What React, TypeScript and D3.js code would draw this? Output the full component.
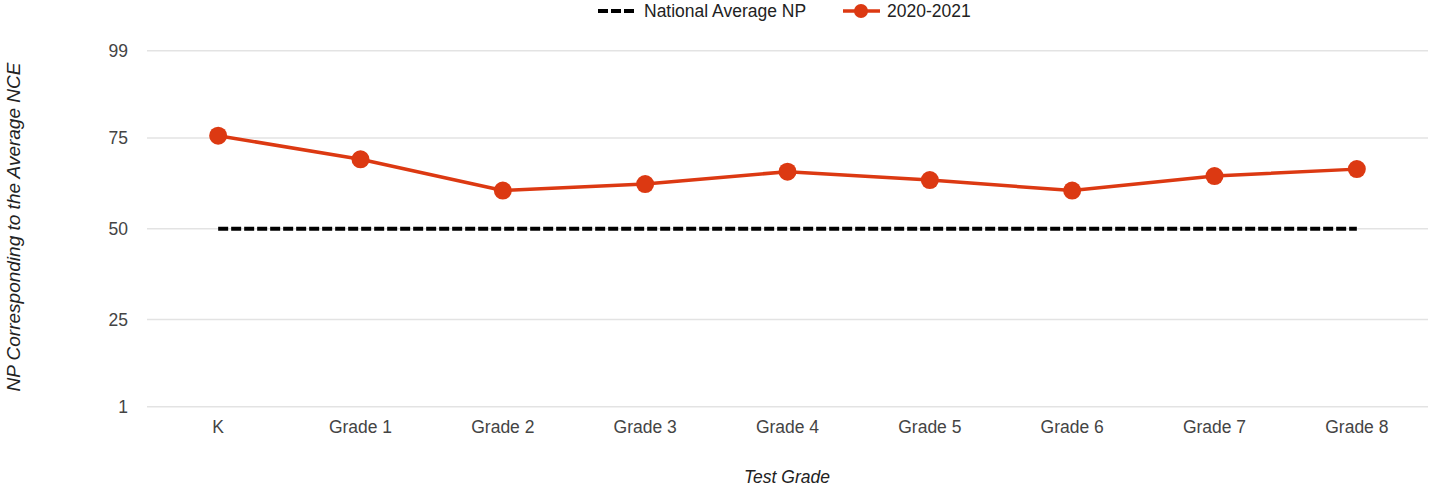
import { useEffect, useRef } from "react";
import * as d3 from "d3";

const grades = ["K", "Grade 1", "Grade 2", "Grade 3", "Grade 4", "Grade 5", "Grade 6", "Grade 7", "Grade 8"];
const scores2021 = [75.6, 69.1, 60.5, 62.3, 65.7, 63.4, 60.5, 64.5, 66.4];
const nationalAvg = [50, 50, 50, 50, 50, 50, 50, 50, 50];
const yTicks = [1, 25, 50, 75, 99];

const W = 1429;
const H = 487;
const RED = "#dc3912";
const FONT = "Liberation Sans, Arial, sans-serif";

export default function App() {
  const ref = useRef<SVGSVGElement | null>(null);

  useEffect(() => {
    const svgEl = ref.current;
    if (!svgEl) return;
    const svg = d3.select(svgEl);
    svg.selectAll("*").remove();

    const left = 147;
    const right = 1428;
    const x = d3.scaleBand<string>().domain(grades).range([left, right]);
    const cx = (g: string) => (x(g) ?? 0) + x.bandwidth() / 2;
    const y = d3.scaleLinear().domain([1, 99]).range([406.7, 50.7]);

    // gridlines
    svg
      .append("g")
      .selectAll("line")
      .data(yTicks)
      .join("line")
      .attr("x1", left)
      .attr("x2", right)
      .attr("y1", (d) => y(d))
      .attr("y2", (d) => y(d))
      .attr("stroke", "#e3e3e3")
      .attr("stroke-width", 1.5);

    // y tick labels
    svg
      .append("g")
      .selectAll("text")
      .data(yTicks)
      .join("text")
      .attr("x", 128)
      .attr("y", (d) => y(d))
      .attr("dy", "0.36em")
      .attr("text-anchor", "end")
      .attr("fill", "#444")
      .style("font", `17.5px ${FONT}`)
      .text((d) => d);

    // x tick labels
    svg
      .append("g")
      .selectAll("text")
      .data(grades)
      .join("text")
      .attr("x", (d) => cx(d))
      .attr("y", 433)
      .attr("text-anchor", "middle")
      .attr("fill", "#444")
      .style("font", `17.5px ${FONT}`)
      .text((d) => d);

    // national average dashed line
    const line = d3
      .line<number>()
      .x((_d, i) => cx(grades[i]))
      .y((d) => y(d));

    svg
      .append("path")
      .attr("d", line(nationalAvg) ?? "")
      .attr("fill", "none")
      .attr("stroke", "#000")
      .attr("stroke-width", 4)
      .attr("stroke-dasharray", "10,3");

    svg
      .append("path")
      .attr("d", line(scores2021) ?? "")
      .attr("fill", "none")
      .attr("stroke", RED)
      .attr("stroke-width", 3.5)
      .attr("stroke-linejoin", "round");

    svg
      .append("g")
      .selectAll("circle")
      .data(scores2021)
      .join("circle")
      .attr("cx", (_d, i) => cx(grades[i]))
      .attr("cy", (d) => y(d))
      .attr("r", 9)
      .attr("fill", RED);

    // axis titles
    svg
      .append("text")
      .attr("x", 787)
      .attr("y", 483)
      .attr("text-anchor", "middle")
      .attr("fill", "#222")
      .style("font", `italic 17.5px ${FONT}`)
      .text("Test Grade");

    svg
      .append("text")
      .attr("transform", `translate(20,227) rotate(-90)`)
      .attr("text-anchor", "middle")
      .attr("fill", "#222")
      .style("font", `italic 19px ${FONT}`)
      .text("NP Corresponding to the Average NCE");

    // legend
    const lg = svg.append("g");
    const ly = 11;
    lg.append("line")
      .attr("x1", 598)
      .attr("x2", 637)
      .attr("y1", ly)
      .attr("y2", ly)
      .attr("stroke", "#000")
      .attr("stroke-width", 4)
      .attr("stroke-dasharray", "10,3");
    lg.append("text")
      .attr("x", 644)
      .attr("y", ly)
      .attr("dy", "0.36em")
      .attr("fill", "#222")
      .style("font", `17.5px ${FONT}`)
      .text("National Average NP");
    lg.append("line")
      .attr("x1", 843)
      .attr("x2", 880)
      .attr("y1", ly)
      .attr("y2", ly)
      .attr("stroke", RED)
      .attr("stroke-width", 3.5);
    lg.append("circle").attr("cx", 861).attr("cy", ly).attr("r", 7).attr("fill", RED);
    lg.append("text")
      .attr("x", 887)
      .attr("y", ly)
      .attr("dy", "0.36em")
      .attr("fill", "#222")
      .style("font", `17.5px ${FONT}`)
      .text("2020-2021");
  }, []);

  return (
    <svg
      ref={ref}
      width={W}
      height={H}
      style={{ position: "absolute", left: 0, top: 0, background: "#fff" }}
    />
  );
}
